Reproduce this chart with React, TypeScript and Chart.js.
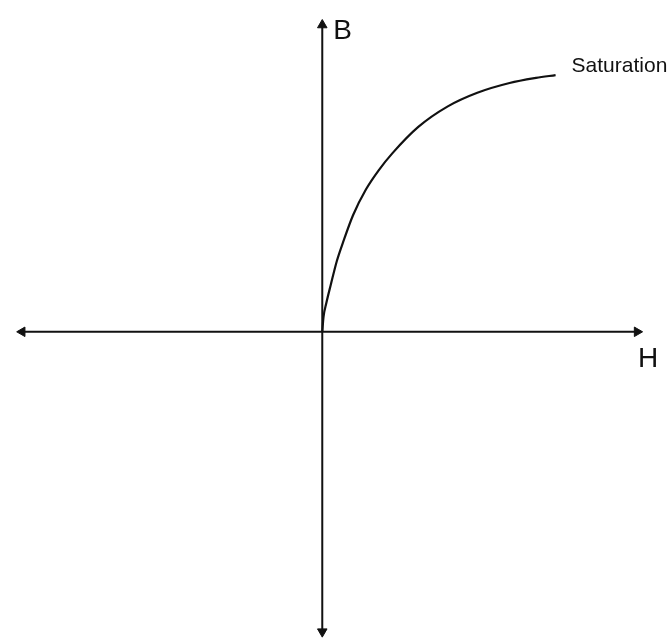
import React, { useEffect, useRef } from "react";
import { Chart, registerables } from "chart.js";

Chart.register(...registerables);

// Magnetization (B-H) curve
const fieldH = [0, 0.05, 0.16, 0.35, 0.58, 0.84, 1.23, 1.75, 2.27, 2.8, 3.84, 5.02, 6.2, 7.49, 8.55, 9.33];
const fluxB = [0, 0.58, 1.11, 1.87, 2.75, 3.51, 4.54, 5.55, 6.31, 6.95, 7.98, 8.78, 9.31, 9.69, 9.89, 10.0];

// Axis extents (arrow ends)
const hAxisEnds = [-12.0, 12.59];
const bAxisEnds = [11.95, -11.68];

const axisLabels = { vertical: "B", horizontal: "H", curveEnd: "Saturation" };

const labelPlugin = {
  id: "bhLabels",
  afterDatasetsDraw(chart: any) {
    const ctx = chart.ctx;
    const hMeta = chart.getDatasetMeta(0);
    const bMeta = chart.getDatasetMeta(1);
    const cMeta = chart.getDatasetMeta(2);
    ctx.save();
    ctx.fillStyle = "#111";
    ctx.textAlign = "left";
    ctx.font = '28px "Liberation Sans", Arial, sans-serif';
    ctx.textBaseline = "alphabetic";
    const top = bMeta.data[0];
    ctx.fillText(axisLabels.vertical, top.x + 11, top.y + 14);
    const right = hMeta.data[1];
    ctx.fillText(axisLabels.horizontal, right.x + 1, right.y + 35);
    const last = cMeta.data[cMeta.data.length - 1];
    ctx.font = '21px "Liberation Sans", Arial, sans-serif';
    ctx.textBaseline = "middle";
    ctx.fillText(axisLabels.curveEnd, last.x + 16, last.y - 9);
    ctx.restore();
  },
};

export default function App() {
  const ref = useRef<HTMLCanvasElement>(null);
  useEffect(() => {
    document.body.style.margin = "0";
    const canvas = ref.current!;
    const chart = new Chart(canvas, {
      type: "line",
      data: {
        datasets: [
          {
            data: hAxisEnds.map((x) => ({ x, y: 0 })),
            borderColor: "#111",
            borderWidth: 2,
            pointStyle: "triangle",
            pointRadius: 5.5,
            pointRotation: [270, 90],
            pointBackgroundColor: "#111",
            pointBorderColor: "#111",
            pointBorderWidth: 1,
            clip: false,
          } as any,
          {
            data: bAxisEnds.map((y) => ({ x: 0, y })),
            borderColor: "#111",
            borderWidth: 2,
            pointStyle: "triangle",
            pointRadius: 5.5,
            pointRotation: [0, 180],
            pointBackgroundColor: "#111",
            pointBorderColor: "#111",
            pointBorderWidth: 1,
            clip: false,
          } as any,
          {
            data: fieldH.map((x, i) => ({ x, y: fluxB[i] })),
            borderColor: "#111",
            borderWidth: 2.2,
            pointRadius: 0,
            cubicInterpolationMode: "monotone",
            clip: false,
          } as any,
        ],
      },
      options: {
        animation: false,
        responsive: false,
        devicePixelRatio: 1,
        layout: { padding: 0 },
        scales: {
          x: { type: "linear", min: -322 / 25.5, max: 350 / 25.5, display: false },
          y: { type: "linear", min: -312 / 26.2, max: 332 / 26.2, display: false },
        },
        plugins: { legend: { display: false }, tooltip: { enabled: false } },
      } as any,
      plugins: [labelPlugin],
    });
    return () => chart.destroy();
  }, []);
  return (
    <div style={{ width: 672, height: 644, overflow: "hidden" }}>
      <canvas ref={ref} width={672} height={644} style={{ width: 672, height: 644, display: "block" }} />
    </div>
  );
}
